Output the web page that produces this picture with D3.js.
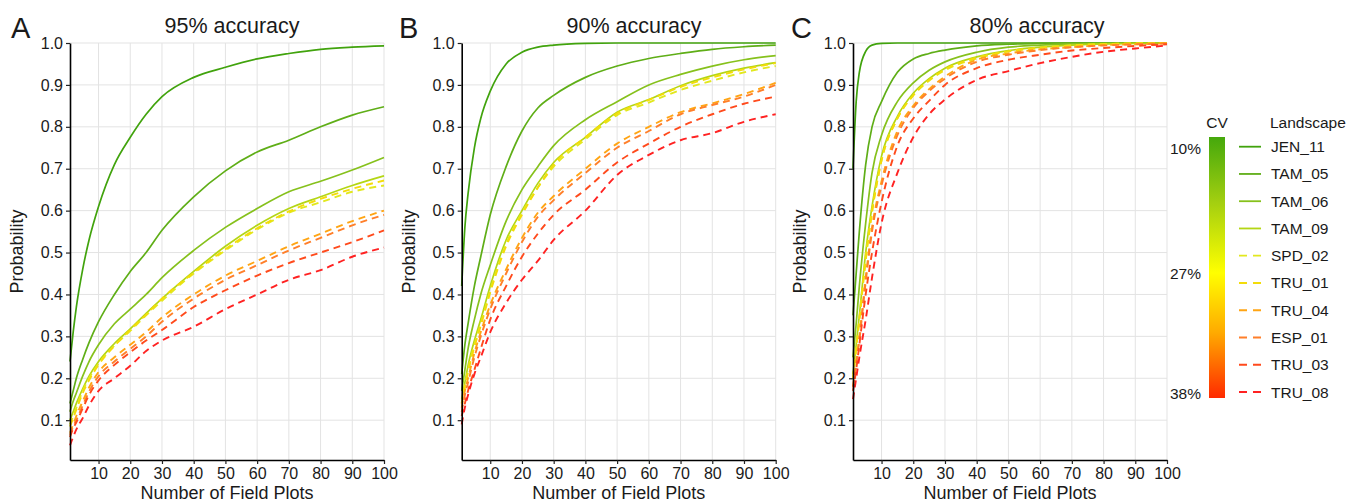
<!DOCTYPE html>
<html><head><meta charset="utf-8">
<script src="https://cdn.jsdelivr.net/npm/d3@7"></script>
<style>
body{margin:0;background:#fff}
text{font-family:"Liberation Sans",Arial,Helvetica,sans-serif;fill:#1a1a1a}
</style>
</head><body>
<svg id="chart" width="1354" height="502"></svg>
<script>
// ---------- data ----------
const plotCounts = [1,2,3,5,7,10,15,20,25,30,40,50,60,70,80,90,100];
const landscapes = ["JEN_11","TAM_05","TAM_06","TAM_09","SPD_02","TRU_01","TRU_04","ESP_01","TRU_03","TRU_08"];
const lineColors = ["#41a30d","#5fae17","#86c11c","#b4d614","#e2e81e","#f3dc0a","#ffa514","#ff7f2a","#ff4a1c","#ff2222"];
const dashed = [false,false,false,false,true,true,true,true,true,true];
const panelTitles = ["95% accuracy","90% accuracy","80% accuracy"];
const panelLetters = ["A","B","C"];
const xTicks = [10,20,30,40,50,60,70,80,90,100];
const yTicks = [0.1,0.2,0.3,0.4,0.5,0.6,0.7,0.8,0.9,1.0];
const cvLabels = ["10%","27%","38%"];

const acc95 = {
  JEN_11:[0.24,0.31,0.37,0.46,0.53,0.61,0.71,0.775,0.83,0.872,0.918,0.942,0.962,0.975,0.985,0.99,0.993],
  TAM_05:[0.14,0.17,0.20,0.245,0.285,0.335,0.40,0.455,0.50,0.553,0.633,0.695,0.74,0.768,0.80,0.828,0.848],
  TAM_06:[0.12,0.145,0.165,0.205,0.24,0.28,0.33,0.365,0.40,0.44,0.505,0.56,0.605,0.645,0.67,0.697,0.727],
  TAM_09:[0.10,0.12,0.14,0.175,0.205,0.24,0.283,0.318,0.355,0.39,0.455,0.515,0.565,0.605,0.633,0.66,0.683],
  SPD_02:[0.09,0.11,0.13,0.17,0.2,0.235,0.278,0.313,0.35,0.385,0.45,0.505,0.555,0.595,0.62,0.645,0.66],
  TRU_01:[0.085,0.105,0.125,0.165,0.195,0.232,0.277,0.316,0.352,0.39,0.452,0.508,0.558,0.598,0.628,0.652,0.672],
  TRU_04:[0.07,0.09,0.11,0.145,0.178,0.215,0.25,0.28,0.31,0.345,0.40,0.445,0.48,0.515,0.545,0.575,0.60],
  ESP_01:[0.065,0.085,0.10,0.135,0.168,0.205,0.24,0.27,0.30,0.335,0.39,0.435,0.47,0.505,0.535,0.565,0.59],
  TRU_03:[0.06,0.08,0.095,0.128,0.16,0.195,0.232,0.262,0.29,0.315,0.37,0.41,0.445,0.475,0.50,0.525,0.553],
  TRU_08:[0.04,0.06,0.078,0.105,0.135,0.17,0.20,0.23,0.265,0.29,0.323,0.365,0.40,0.435,0.458,0.49,0.512]
};
const acc90 = {
  JEN_11:[0.42,0.56,0.64,0.75,0.82,0.885,0.95,0.978,0.99,0.995,0.999,1,1,1,1,1,1],
  TAM_05:[0.21,0.28,0.33,0.42,0.49,0.59,0.705,0.79,0.845,0.875,0.918,0.945,0.963,0.975,0.985,0.991,0.995],
  TAM_06:[0.17,0.22,0.27,0.34,0.40,0.47,0.575,0.65,0.705,0.755,0.817,0.86,0.90,0.925,0.945,0.96,0.97],
  TAM_09:[0.15,0.19,0.23,0.29,0.34,0.42,0.53,0.60,0.665,0.715,0.775,0.835,0.865,0.898,0.922,0.94,0.953],
  SPD_02:[0.14,0.18,0.22,0.28,0.33,0.41,0.52,0.595,0.655,0.705,0.77,0.828,0.858,0.888,0.91,0.93,0.945],
  TRU_01:[0.14,0.18,0.215,0.275,0.325,0.405,0.515,0.59,0.655,0.71,0.775,0.832,0.864,0.895,0.918,0.937,0.952],
  TRU_04:[0.13,0.17,0.20,0.26,0.31,0.375,0.46,0.535,0.595,0.635,0.70,0.76,0.80,0.835,0.856,0.878,0.905],
  ESP_01:[0.12,0.16,0.19,0.25,0.30,0.365,0.45,0.525,0.585,0.625,0.69,0.75,0.79,0.83,0.852,0.872,0.90],
  TRU_03:[0.11,0.14,0.17,0.22,0.27,0.34,0.42,0.49,0.545,0.59,0.65,0.715,0.76,0.80,0.83,0.855,0.872],
  TRU_08:[0.09,0.13,0.16,0.21,0.25,0.31,0.38,0.435,0.48,0.53,0.60,0.685,0.733,0.768,0.785,0.812,0.83]
};
const acc80 = {
  JEN_11:[0.70,0.86,0.93,0.98,0.995,0.999,1,1,1,1,1,1,1,1,1,1,1],
  TAM_05:[0.35,0.45,0.55,0.71,0.80,0.86,0.93,0.962,0.975,0.983,0.993,0.997,0.999,1,1,1,1],
  TAM_06:[0.25,0.33,0.42,0.57,0.69,0.78,0.86,0.905,0.935,0.955,0.978,0.99,0.995,0.998,0.999,1,1],
  TAM_09:[0.21,0.28,0.35,0.50,0.61,0.73,0.825,0.88,0.915,0.94,0.967,0.982,0.99,0.995,0.998,0.999,1],
  SPD_02:[0.20,0.27,0.34,0.49,0.60,0.72,0.82,0.875,0.91,0.935,0.963,0.98,0.988,0.994,0.997,0.999,1],
  TRU_01:[0.20,0.27,0.34,0.48,0.595,0.72,0.82,0.875,0.912,0.937,0.965,0.98,0.989,0.994,0.997,0.999,1],
  TRU_04:[0.18,0.24,0.30,0.44,0.56,0.67,0.79,0.85,0.89,0.92,0.96,0.975,0.985,0.99,0.995,0.997,0.999],
  ESP_01:[0.18,0.23,0.29,0.43,0.55,0.66,0.78,0.845,0.885,0.915,0.955,0.972,0.983,0.99,0.994,0.997,0.999],
  TRU_03:[0.17,0.22,0.28,0.40,0.50,0.62,0.755,0.82,0.862,0.90,0.94,0.96,0.972,0.982,0.988,0.993,0.997],
  TRU_08:[0.15,0.20,0.25,0.34,0.44,0.57,0.69,0.775,0.83,0.865,0.912,0.933,0.952,0.967,0.979,0.987,0.994]
};
const panelData = [acc95, acc90, acc80];

// ---------- layout ----------
const svg = d3.select("#chart");
const panelLeft = [70, 461.7, 853];
const panelWidth = 314;
const plotTop = 43, plotBottom = 460;
const titleX = [232, 634, 1037];
const letterX = [11, 399, 791];

const y = d3.scaleLinear().domain([0.005, 1]).range([plotBottom, plotTop]);
const fontTick = 16;

panelData.forEach((data, p) => {
  const left = panelLeft[p];
  const x = d3.scaleLinear().domain([1, 100]).range([left, left + panelWidth]);
  const g = svg.append("g");

  // grid
  g.selectAll(".vg").data(xTicks).join("line")
    .attr("x1", d => x(d)).attr("x2", d => x(d))
    .attr("y1", plotTop).attr("y2", plotBottom)
    .attr("stroke", "#e3e3e3").attr("stroke-width", 1);
  g.selectAll(".hg").data(yTicks).join("line")
    .attr("x1", left).attr("x2", left + panelWidth)
    .attr("y1", d => y(d)).attr("y2", d => y(d))
    .attr("stroke", "#e3e3e3").attr("stroke-width", 1);

  // lines
  const line = d3.line().x((d, i) => x(plotCounts[i])).y(d => y(d)).curve(d3.curveMonotoneX);
  landscapes.forEach((name, k) => {
    g.append("path")
      .attr("d", line(data[name]))
      .attr("fill", "none")
      .attr("stroke", lineColors[k])
      .attr("stroke-width", dashed[k] ? 1.9 : 1.7)
      .attr("stroke-dasharray", dashed[k] ? "7,5" : null)
      .attr("stroke-linejoin", "round");
  });

  // axes
  const yAxis = d3.axisLeft(y).tickValues(yTicks).tickFormat(d3.format(".1f")).tickSize(4).tickSizeOuter(0).tickPadding(3);
  const ga = g.append("g").attr("transform", `translate(${left},0)`).call(yAxis);
  const xAxis = d3.axisBottom(x).tickValues(xTicks).tickSize(4).tickSizeOuter(0).tickPadding(4);
  const gb = g.append("g").attr("transform", `translate(0,${plotBottom})`).call(xAxis);
  [ga, gb].forEach(a => {
    a.select(".domain").attr("stroke", "#000").attr("stroke-width", 1.6);
    a.selectAll(".tick line").attr("stroke", "#222").attr("stroke-width", 1.2);
    a.selectAll(".tick text").attr("font-size", fontTick).attr("font-family", '"Liberation Sans",Arial,sans-serif').attr("fill", "#1a1a1a");
  });

  // titles
  g.append("text").attr("x", titleX[p]).attr("y", 33).attr("text-anchor", "middle")
    .attr("font-size", 21.5).text(panelTitles[p]);
  g.append("text").attr("x", letterX[p]).attr("y", 38)
    .attr("font-size", 29).text(panelLetters[p]);
  g.append("text").attr("x", left + panelWidth / 2).attr("y", 499).attr("text-anchor", "middle")
    .attr("font-size", 18).text("Number of Field Plots");
  g.append("text").attr("transform", `translate(${left - 47},${(plotTop + plotBottom) / 2}) rotate(-90)`)
    .attr("text-anchor", "middle").attr("font-size", 18).text("Probability");
});

// ---------- legends ----------
const defs = svg.append("defs");
const grad = defs.append("linearGradient").attr("id", "cvgrad").attr("x1", 0).attr("x2", 0).attr("y1", 0).attr("y2", 1);
[[0, "#45a80c"], [0.25, "#a3cf10"], [0.52, "#ffff00"], [0.75, "#ffaa00"], [1, "#ff2a00"]].forEach(s =>
  grad.append("stop").attr("offset", s[0]).attr("stop-color", s[1]));

const barTop = 137, barBottom = 398, barX = 1209, barW = 16;
svg.append("rect").attr("x", barX).attr("y", barTop).attr("width", barW).attr("height", barBottom - barTop)
  .attr("fill", "url(#cvgrad)");
svg.append("text").attr("x", barX + barW / 2).attr("y", 128).attr("text-anchor", "middle").attr("font-size", 15.5).text("CV");
const cvPos = [148, 273, 393];
cvLabels.forEach((t, i) => {
  svg.append("text").attr("x", 1201).attr("y", cvPos[i] + 5.5).attr("text-anchor", "end").attr("font-size", 15.5).text(t);
});

svg.append("text").attr("x", 1270).attr("y", 128).attr("font-size", 15.5).text("Landscape");
const legY = d3.scaleLinear().domain([0, landscapes.length - 1]).range([146.7, 392]);
landscapes.forEach((name, k) => {
  const yy = legY(k);
  svg.append("line").attr("x1", 1239).attr("x2", 1261).attr("y1", yy).attr("y2", yy)
    .attr("stroke", lineColors[k]).attr("stroke-width", 1.8)
    .attr("stroke-dasharray", dashed[k] ? "8,6" : null);
  svg.append("text").attr("x", 1271).attr("y", yy + 5.5).attr("font-size", 15.5).text(name);
});
</script>
</body></html>
